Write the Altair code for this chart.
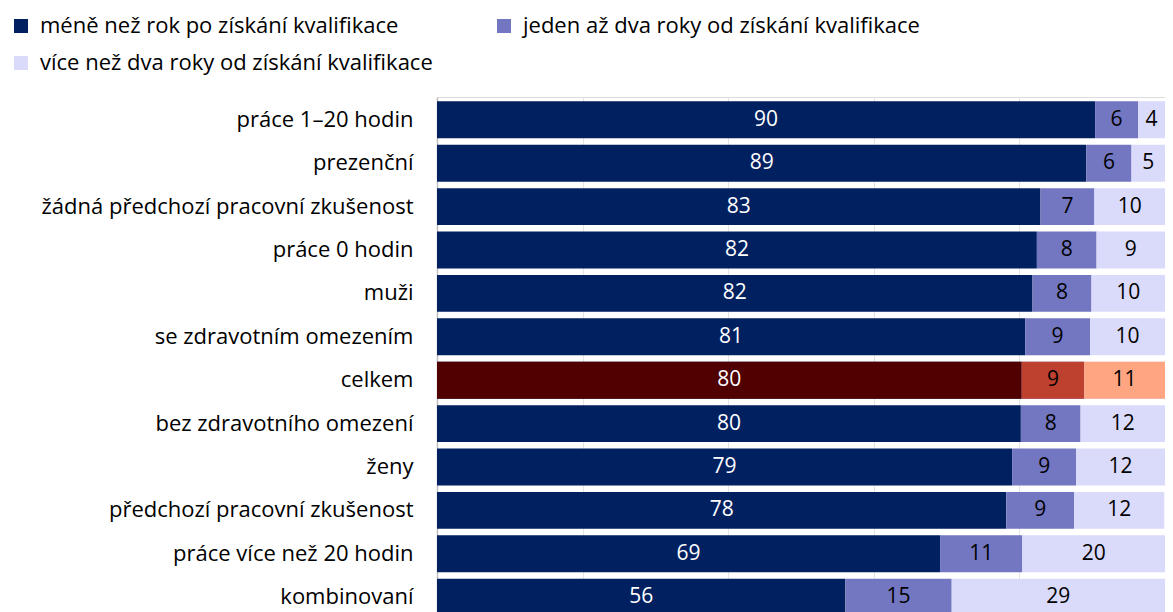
import altair as alt
import pandas as pd

categories = [
    "práce 1–20 hodin",
    "prezenční",
    "žádná předchozí pracovní zkušenost",
    "práce 0 hodin",
    "muži",
    "se zdravotním omezením",
    "celkem",
    "bez zdravotního omezení",
    "ženy",
    "předchozí pracovní zkušenost",
    "práce více než 20 hodin",
    "kombinovaní",
]
series = [
    "méně než rok po získání kvalifikace",
    "jeden až dva roky od získání kvalifikace",
    "více než dva roky od získání kvalifikace",
]
less_than_year = [90.4, 89.2, 82.9, 82.4, 81.8, 80.8, 80.3, 80.2, 79.0, 78.2, 69.1, 56.1]
one_to_two = [5.9, 6.2, 7.4, 8.2, 8.1, 8.9, 8.6, 8.2, 8.8, 9.3, 11.3, 14.6]
more_than_two = [3.7, 4.6, 9.7, 9.4, 10.1, 10.3, 11.1, 11.6, 12.2, 12.4, 19.6, 29.3]

colors = ["#002060", "#7377C1", "#DADAFA"]
highlight_colors = ["#500000", "#BE412F", "#FFA582"]
highlight = "celkem"

rows = []
for i, c in enumerate(categories):
    for j, vals in enumerate([less_than_year, one_to_two, more_than_two]):
        rows.append({
            "cat": c,
            "series": series[j],
            "order": j,
            "value": vals[i],
            "hl": c == highlight,
            "hlcolor": highlight_colors[j],
            "tcolor": "white" if j == 0 else "black",
        })
df = pd.DataFrame(rows)

FONT = "Open Sans"

base = alt.Chart(df).transform_stack(
    stack="value", groupby=["cat"], as_=["x0", "x1"], sort=[alt.SortField("order")]
).transform_calculate(mid="(datum.x0 + datum.x1) / 2")

y = alt.Y("cat:N", sort=categories, title=None,
          scale=alt.Scale(paddingInner=0.15, paddingOuter=0.1),
          axis=alt.Axis(labelFontSize=22, labelFont=FONT, labelColor="black",
                        ticks=False, labelPadding=24, domainColor="#BFBFBF",
                        domainWidth=1.5, grid=False, labelLimit=500))
x = alt.X("x0:Q", scale=alt.Scale(domain=[0, 100], nice=False),
          axis=alt.Axis(values=[0, 20, 40, 60, 80, 100], grid=True, gridColor="#E4E4E4",
                        labels=False, ticks=False, domain=False, title=None))

bars = base.mark_bar(cornerRadius=0).encode(
    y=y,
    x=x,
    x2="x1:Q",
    color=alt.Color("series:N", sort=series,
                    scale=alt.Scale(domain=series, range=colors),
                    legend=alt.Legend(title=None, orient="none", legendX=-427, legendY=-82,
                                      direction="horizontal",
                                      columns=2, columnPadding=60, rowPadding=15,
                                      symbolType="square", symbolSize=196, labelOffset=8,
                                      symbolStrokeWidth=0, labelFontSize=22,
                                      labelFont=FONT, labelColor="black",
                                      labelLimit=600, symbolOpacity=1)),
)

hl_bars = base.transform_filter("datum.hl").mark_bar().encode(
    y=alt.Y("cat:N", sort=categories),
    x="x0:Q",
    x2="x1:Q",
    fill=alt.Fill("hlcolor:N", scale=None),
)

labels = base.mark_text(fontSize=21, font=FONT).encode(
    y=alt.Y("cat:N", sort=categories),
    x=alt.X("mid:Q"),
    text=alt.Text("value:Q", format=".0f"),
    color=alt.Color("tcolor:N", scale=None),
)

chart = alt.layer(bars, hl_bars, labels).properties(
    width=728, height=523,
    autosize=alt.AutoSizeParams(type="none"),
    padding={"left": 429, "top": 89, "right": 0, "bottom": 0},
).configure_view(stroke=None).configure(background="white")

chart.save("out.html", embed_options={"renderer": "svg", "actions": False})
